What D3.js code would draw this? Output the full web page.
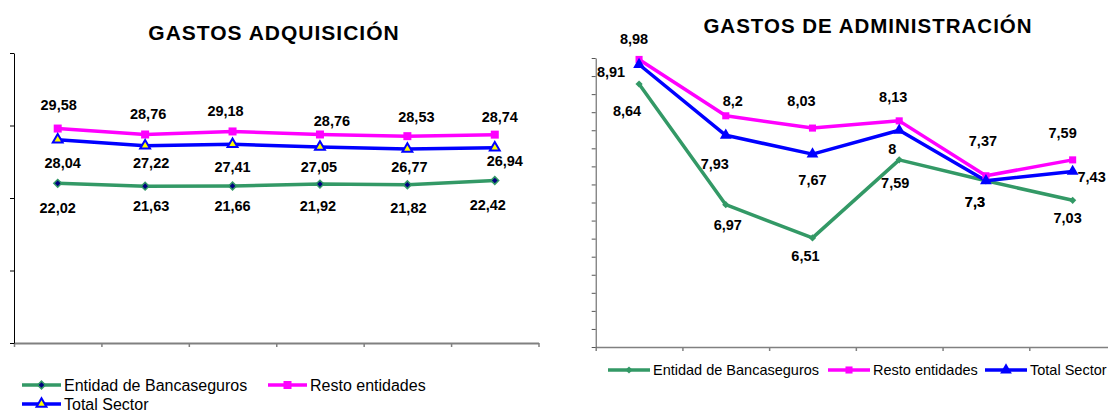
<!DOCTYPE html>
<html>
<head>
<meta charset="utf-8">
<script src="https://cdn.jsdelivr.net/npm/d3@7"></script>
<style>
body{margin:0;background:#fff}
svg{display:block;font-family:"Liberation Sans",Arial,sans-serif}
</style>
</head>
<body>
<script>
// datos
const nombres = ["Entidad de Bancaseguros", "Resto entidades", "Total Sector"]
const periodos = [1, 2, 3, 4, 5, 6]

const adqBanca = [22.02, 21.63, 21.66, 21.92, 21.82, 22.42]
const adqResto = [29.58, 28.76, 29.18, 28.76, 28.53, 28.74]
const adqTotal = [28.04, 27.22, 27.41, 27.05, 26.77, 26.94]
const adqTicks = [0, 10, 20, 30, 40]

const admBanca = [8.64, 6.97, 6.51, 7.59, 7.3, 7.03]
const admResto = [8.98, 8.2, 8.03, 8.13, 7.37, 7.59]
const admTotal = [8.91, 7.93, 7.67, 8, 7.3, 7.43]
const admTicks = [5, 5.25, 5.5, 5.75, 6, 6.25, 6.5, 6.75, 7, 7.25, 7.5, 7.75, 8, 8.25, 8.5, 8.75, 9]

// desplazamiento de las etiquetas respecto al punto [dx, dy]
const despAdq = [
  [[0,25],[6,20],[0,20],[-2,22],[1,23],[-7,24]],
  [[1,-24],[3,-21],[-7,-21],[12,-14],[9,-19],[5,-18]],
  [[5,23],[6,17],[0,23],[-1,20],[2,18],[10,13]]
]
const despAdm = [
  [[-12,27],[2,20],[-7,18],[-4,23],[-11,21],[-5,18]],
  [[-5,-21],[7,-15],[-11,-27],[-6,-24],[-3,-35],[-10,-27]],
  [[-28,7],[-11,29],[0,26],[-7,19],[-11,21],[19,5]]
]

const width = 1108
const height = 412
const coma = d3.formatLocale({decimal: ",", thousands: ".", grouping: [3], currency: ["", "€"]}).format("")

const svg = d3.select("body").append("svg")
  .attr("width", width)
  .attr("height", height)

const verde = "#339966", rosa = "#ff00ff", azul = "#0000ff"

function marcador(g, tipo, x, y, st) {
  let sym, rot = 0
  if (tipo == "rombo") { sym = d3.symbolSquare; rot = 45 }
  else if (tipo == "cuadrado") sym = d3.symbolSquare
  else sym = d3.symbolTriangle
  g.append("path")
    .attr("d", d3.symbol().type(sym).size(st.size)())
    .attr("transform", `translate(${x},${y}) rotate(${rot})`)
    .attr("fill", st.fill)
    .attr("stroke", st.stroke || "none")
    .attr("stroke-width", st.sw || 0)
}

function grafico(cfg) {
  const g = svg.append("g")
  const x = d3.scaleLinear().domain([0, periodos.length]).range(cfg.xr)
  const y = d3.scaleLinear().domain(cfg.dom).range(cfg.yr)

  // ejes
  const ejeX = g.append("g").attr("transform", `translate(0,${cfg.yr[0]})`)
    .call(d3.axisBottom(x).tickValues(d3.range(0, periodos.length + 1)).tickFormat("").tickSize(4).tickSizeOuter(0))
  ejeX.select(".domain").attr("stroke", "#808080").attr("stroke-width", cfg.xw)
  ejeX.selectAll(".tick line").attr("stroke", "#808080").attr("stroke-width", 1.5)

  const ejeY = g.append("g").attr("transform", `translate(${cfg.xr[0]},0)`)
    .call(d3.axisLeft(y).tickValues(cfg.ticks).tickFormat("").tickSize(4).tickSizeOuter(0))
  ejeY.select(".domain").attr("stroke", cfg.yc)
  ejeY.selectAll(".tick line").attr("stroke", cfg.yc)

  const linea = d3.line().x((d, i) => x(i + 0.5)).y(d => y(d))

  cfg.datos.forEach((serie, k) => {
    g.append("path")
      .attr("d", linea(serie))
      .attr("fill", "none")
      .attr("stroke", cfg.estilos[k].color)
      .attr("stroke-width", 3.5)
      .attr("stroke-linejoin", "round")
  })
  cfg.datos.forEach((serie, k) => {
    serie.forEach((v, i) => marcador(g, cfg.estilos[k].tipo, x(i + 0.5), y(v), cfg.estilos[k]))
  })
  cfg.datos.forEach((serie, k) => {
    g.selectAll(null).data(serie).enter().append("text")
      .attr("x", (d, i) => x(i + 0.5) + cfg.desp[k][i][0])
      .attr("y", (d, i) => y(d) + cfg.desp[k][i][1])
      .attr("dy", "0.35em")
      .attr("text-anchor", "middle")
      .attr("font-size", "14.5px")
      .attr("font-weight", "bold")
      .text(d => coma(d))
  })

  g.append("text")
    .attr("x", cfg.titulo[1])
    .attr("y", cfg.titulo[2])
    .attr("dy", "0.35em")
    .attr("text-anchor", "middle")
    .attr("font-size", cfg.titulo[3])
    .attr("font-weight", "bold")
    .attr("letter-spacing", "1px")
    .text(cfg.titulo[0])

  cfg.leyenda.forEach((it, k) => {
    g.append("line")
      .attr("x1", it[0]).attr("x2", it[0] + cfg.lw)
      .attr("y1", it[1]).attr("y2", it[1])
      .attr("stroke", cfg.estilos[k].color).attr("stroke-width", 3.5)
    marcador(g, cfg.estilos[k].tipo, it[0] + cfg.lw / 2, it[1], cfg.estilos[k])
    g.append("text")
      .attr("x", it[0] + cfg.lw + 3).attr("y", it[1])
      .attr("dy", "0.35em")
      .attr("font-size", cfg.fs)
      .text(nombres[k])
  })
}

grafico({
  xr: [14, 538.5], dom: [0, 40], yr: [343, 53], ticks: adqTicks,
  xw: 2, yc: "#000",
  datos: [adqBanca, adqResto, adqTotal],
  desp: despAdq,
  estilos: [
    {color: verde, tipo: "rombo", fill: "#000080", stroke: verde, sw: 1.5, size: 30},
    {color: rosa, tipo: "cuadrado", fill: rosa, size: 64},
    {color: azul, tipo: "triangulo", fill: "#ffff00", stroke: azul, sw: 2, size: 42}
  ],
  titulo: ["GASTOS ADQUISICIÓN", 274, 33, "21px"],
  leyenda: [[22, 385], [268, 385], [22, 404]], lw: 39, fs: "16px"
})

grafico({
  xr: [595.7, 1116], dom: [5, 9], yr: [347, 58], ticks: admTicks,
  xw: 1.5, yc: "#555",
  datos: [admBanca, admResto, admTotal],
  desp: despAdm,
  estilos: [
    {color: verde, tipo: "rombo", fill: verde, size: 26},
    {color: rosa, tipo: "cuadrado", fill: rosa, size: 50},
    {color: azul, tipo: "triangulo", fill: azul, size: 60}
  ],
  titulo: ["GASTOS DE ADMINISTRACIÓN", 868, 26, "20.5px"],
  leyenda: [[608, 370], [828, 370], [985, 370]], lw: 42, fs: "14.5px"
})
</script>
</body>
</html>
